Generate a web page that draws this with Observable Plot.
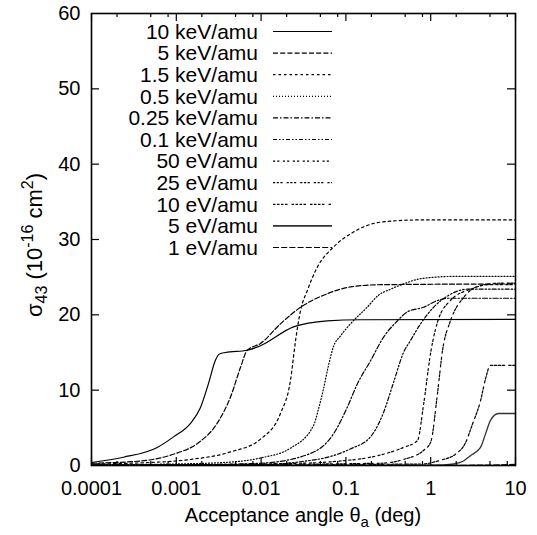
<!DOCTYPE html>
<html><head><meta charset="utf-8">
<script src="https://cdn.jsdelivr.net/npm/d3@7"></script>
<script src="https://cdn.jsdelivr.net/npm/@observablehq/plot@0.6"></script>
<style>body{margin:0;background:#fff}</style>
</head><body><div id="chart"></div>
<script>
// ---- data ----
const seriesNames = ["10 keV/amu","5 keV/amu","1.5 keV/amu","0.5 keV/amu","0.25 keV/amu","0.1 keV/amu","50 eV/amu","25 eV/amu","10 eV/amu","5 eV/amu","1 eV/amu"];

const angle_10keV = [0.0001,0.000238,0.000596,0.000927,0.00147,0.00193,0.0024,0.0029,0.00323,0.0038,0.00686,0.00984,0.0241,0.0603,0.149,10];
const sigma_10keV = [0.4,1.1,2.4,3.8,5.6,7.7,10.9,14.0,14.8,15.0,15.3,15.9,18.4,19.2,19.35,19.4];

const angle_5keV = [0.0001,0.000379,0.000927,0.00176,0.00303,0.00436,0.00571,0.00686,0.00984,0.0169,0.0292,0.0603,0.113,0.256,10];
const sigma_5keV = [0.3,0.6,1.5,2.9,5.6,9.1,13.0,15.3,16.2,18.8,21.0,22.8,23.7,24.0,24.1];

const angle_1_5keV = [0.0001,0.000379,0.00147,0.00436,0.00984,0.0169,0.0222,0.0255,0.0292,0.035,0.0459,0.0714,0.123,0.256,0.759,10];
const sigma_1_5keV = [0.2,0.35,0.8,1.8,3.5,6.9,11.3,16.6,20.6,23.2,26.3,29.0,31.0,32.3,32.6,32.6];

const angle_0_5keV = [0.0001,0.000927,0.0036,0.00984,0.0222,0.0415,0.0475,0.0545,0.0624,0.0714,0.0863,0.113,0.178,0.242,0.336,0.478,0.759,1.86,10];
const sigma_0_5keV = [0.1,0.2,0.4,1.0,2.3,5.3,7.5,10.2,13.3,15.8,17.2,18.8,21.0,22.6,23.4,24.1,24.8,25.1,25.1];

const angle_0_25keV = [0.0001,0.00147,0.00984,0.0383,0.0714,0.1035,0.136,0.195,0.277,0.405,0.532,0.822,1.2,1.58,10];
const sigma_0_25keV = [0.05,0.1,0.3,1.6,4.2,7.7,10.8,13.9,17.0,19.2,20.4,21.0,21.9,22.2,22.2];

const angle_0_1keV = [0.0001,0.00984,0.0292,0.0658,0.113,0.195,0.277,0.364,0.478,0.578,0.759,1.08,1.58,2.72,10];
const sigma_0_1keV = [0.03,0.1,0.5,1.2,2.2,3.8,7.0,11.0,15.0,16.6,18.8,21.0,22.5,23.4,23.4];

const angle_50eV = [0.0001,0.0292,0.0863,0.195,0.478,0.698,0.822,1.0,1.2,1.71,2.94,5.07,10];
const sigma_50eV = [0.02,0.3,0.6,1.1,2.4,3.3,8.0,15.0,19.0,21.9,23.4,24.0,24.0];

const angle_25eV = [0.0001,0.256,0.478,0.822,1.0,1.2,1.38,1.71,2.44,3.87,6.65,10];
const sigma_25eV = [0.01,0.3,0.8,2.0,3.1,9.5,15.3,19.2,22.3,23.9,24.2,24.2];

const angle_10eV = [0.0001,0.759,1.31,1.96,2.57,3.11,3.87,4.43,5.07,10];
const sigma_10eV = [0.01,0.2,0.7,1.5,3.0,5.5,8.6,11.5,13.3,13.3];

const angle_5eV = [0.0001,1.31,1.86,2.44,2.94,3.87,4.43,5.07,6.31,10];
const sigma_5eV = [0.01,0.05,0.2,0.6,1.3,2.4,4.2,6.0,6.9,6.9];

const angle_1eV = [0.0001,1,5,10];
const sigma_1eV = [0.01,0.02,0.05,0.15];

const xTickValues = [0.0001,0.001,0.01,0.1,1,10];
const xMinorMultipliers = [2,5,8];
const yTickValues = [0,10,20,30,40,50,60];

// ---- assemble ----
const angles = [angle_10keV,angle_5keV,angle_1_5keV,angle_0_5keV,angle_0_25keV,angle_0_1keV,angle_50eV,angle_25eV,angle_10eV,angle_5eV,angle_1eV];
const sigmas = [sigma_10keV,sigma_5keV,sigma_1_5keV,sigma_0_5keV,sigma_0_25keV,sigma_0_1keV,sigma_50eV,sigma_25eV,sigma_10eV,sigma_5eV,sigma_1eV];
const rows = seriesNames.flatMap((name,i)=>angles[i].map((a,j)=>({name, angle:a, sigma:sigmas[i][j]})));

// styles (not data)
const dashes = [null,"5,2.2","2.5,3","1,2","5,2,1.5,2","4,2,1.5,2,1.5,2","2.2,2,2.2,3.5","2.2,1.5,2.2,1.5,2.2,4","2.5,1.5,2.5,1.5,2.5,1.5,2.5,4",null,"6,2.2"];
const strokes = ["#000","#000","#000","#000","#000","#000","#000","#000","#000","#333","#000"];
const widths = [1.2,1.2,1.2,1.2,1.2,1.2,1.2,1.2,1.2,1.3,1.2];

const W = 537, H = 535, mL = 91, mR = 22, mT = 13, mB = 70;
const fw = W - mL - mR, fh = H - mT - mB;
const minorX = xTickValues.slice(0,-1).flatMap(d => xMinorMultipliers.map(m => d*m));
const innerY = yTickValues.slice(1,-1);

const lineMarks = seriesNames.map((name,i)=>Plot.line(rows.filter(r=>r.name===name), {
  x:"angle", y:"sigma", curve:"monotone-x", stroke:strokes[i], strokeWidth:widths[i],
  strokeDasharray: dashes[i] ?? undefined
}));

const chart = Plot.plot({
  width: W, height: H, marginLeft: mL, marginRight: mR, marginTop: mT, marginBottom: mB,
  style: {fontFamily: "'Liberation Sans', Arial, sans-serif", fontSize: "20px", color: "#000", background: "#fff"},
  x: {type: "log", domain: [0.0001, 10]},
  y: {domain: [0, 60]},
  marks: [
    ...lineMarks,
    Plot.ruleX(xTickValues, {insetTop: fh - 8, stroke: "#000", strokeWidth: 1.2}),
    Plot.ruleX(xTickValues, {insetBottom: fh - 8, stroke: "#000", strokeWidth: 1.2}),
    Plot.ruleX(minorX, {insetTop: fh - 4, stroke: "#000", strokeWidth: 1.2}),
    Plot.ruleX(minorX, {insetBottom: fh - 4, stroke: "#000", strokeWidth: 1.2}),
    Plot.ruleY(innerY, {insetRight: fw - 8, stroke: "#000", strokeWidth: 1.2}),
    Plot.ruleY(innerY, {insetLeft: fw - 8, stroke: "#000", strokeWidth: 1.2}),
    Plot.frame({stroke: "#000", strokeWidth: 1.6}),
    Plot.axisX({ticks: xTickValues, tickFormat: d => String(d), tickSize: 0, tickPadding: 15, label: null}),
    Plot.axisY({ticks: yTickValues, tickSize: 0, tickPadding: 11, label: null})
  ]
});
document.getElementById("chart").appendChild(chart);

// ---- axis titles with sub/superscripts and the key ----
const svg = d3.select(chart);
const ff = "'Liberation Sans', Arial, sans-serif";
const xt = svg.append("text").attr("x", mL + fw/2).attr("y", 522).attr("text-anchor","middle")
  .attr("font-family", ff).attr("font-size", 20).attr("fill","#000");
xt.append("tspan").text("Acceptance angle θ");
xt.append("tspan").attr("dy", 5).attr("font-size", 15).text("a");
xt.append("tspan").attr("dy", -5).text(" (deg)");

const yt = svg.append("text").attr("transform", `translate(42,${mT + fh/2 + 6}) rotate(-90)`)
  .attr("text-anchor","middle").attr("font-family", ff).attr("font-size", 22).attr("fill","#000");
yt.append("tspan").text("σ");
yt.append("tspan").attr("dy", 5).attr("font-size", 16).text("43");
yt.append("tspan").attr("dy", -5).text(" (10");
yt.append("tspan").attr("dy", -9).attr("font-size", 16).text("-16");
yt.append("tspan").attr("dy", 9).text(" cm");
yt.append("tspan").attr("dy", -9).attr("font-size", 16).text("2");
yt.append("tspan").attr("dy", 9).text(")");

const key = svg.append("g").attr("font-family", ff).attr("font-size", 21).attr("fill","#000");
seriesNames.forEach((name,i)=>{
  const y = 31.5 + i*21.6;
  key.append("text").attr("x", 258).attr("y", y).attr("dy","0.35em").attr("text-anchor","end").text(name);
  const ln = key.append("line").attr("x1", 273).attr("x2", 332).attr("y1", y).attr("y2", y)
    .attr("stroke", strokes[i]).attr("stroke-width", i===9 ? 1.6 : 1.2);
  if (dashes[i]) ln.attr("stroke-dasharray", dashes[i]);
});
</script></body></html>
